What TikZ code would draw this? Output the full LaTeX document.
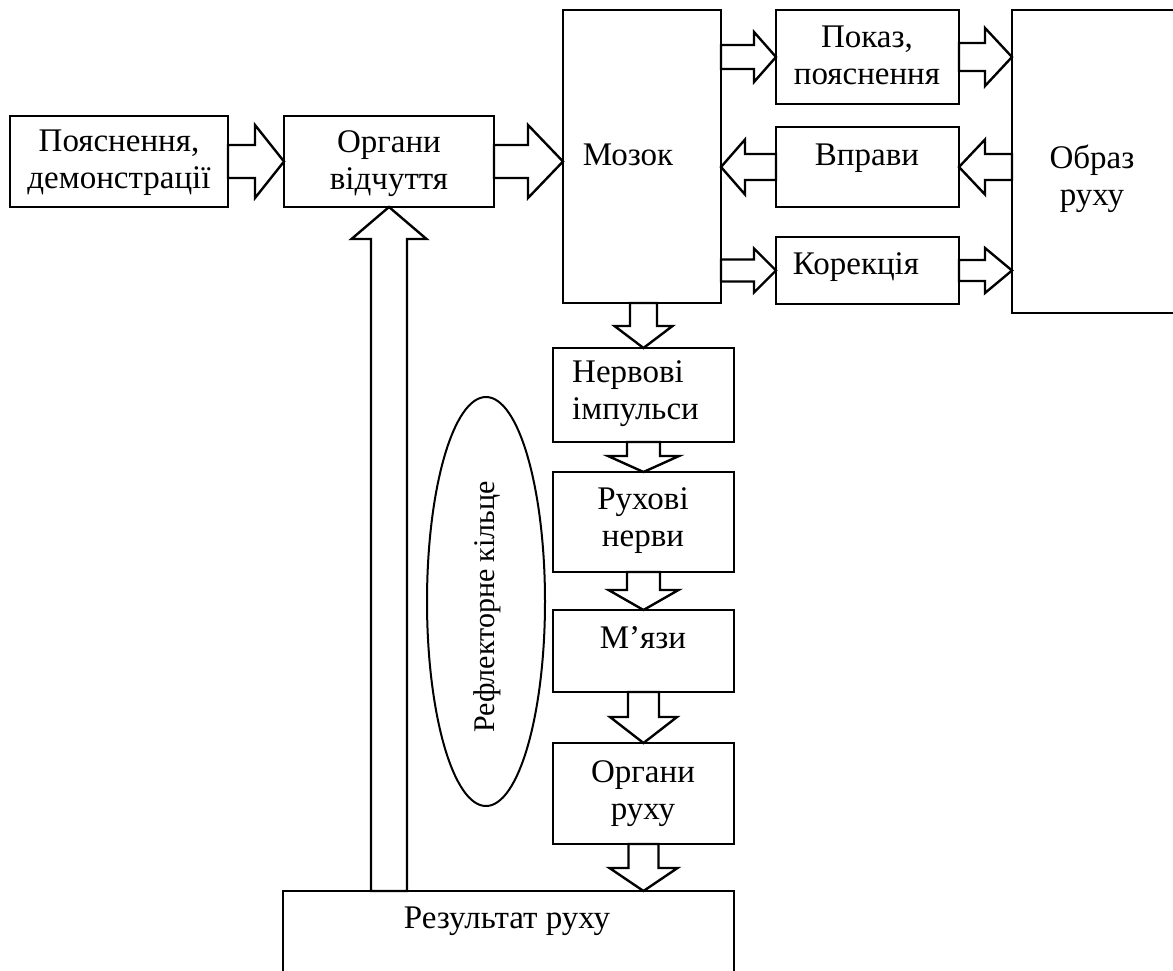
\documentclass[tikz,border=0pt]{standalone}
\usepackage{fontspec}
\setmainfont{Liberation Serif}
\usetikzlibrary{calc,shapes.geometric}
\newcommand{\blockarrow}[5]{%
  \coordinate (ba-s) at #1;
  \coordinate (ba-t) at #2;
  \coordinate (ba-h) at ($(ba-t)!#5!(ba-s)$);
  \draw[arr] ($(ba-s)!#3!90:(ba-t)$) -- ($(ba-h)!#3!-90:(ba-s)$) -- ($(ba-h)!#4!-90:(ba-s)$) -- (ba-t)
    -- ($(ba-h)!#4!90:(ba-s)$) -- ($(ba-h)!#3!90:(ba-s)$) -- ($(ba-s)!#3!-90:(ba-t)$) -- cycle;
}
\begin{document}
\begin{tikzpicture}[x=1pt,y=-1pt,
  box/.style={draw, line width=1.3pt, inner sep=0pt, outer sep=0pt},
  arr/.style={draw, fill=white, line width=2.4pt, line join=miter},
  txt/.style={font=\fontsize{33}{37}\selectfont, align=center, inner sep=0pt},
  ringtxt/.style={font=\fontsize{30}{35}\selectfont, inner sep=0pt},
  ring/.style={draw, ellipse, line width=2pt, inner sep=0pt, outer sep=0pt},
]
\useasboundingbox (0,0) rectangle (1173,971);
% boxes
\node[box, minimum width=218pt, minimum height=91pt] (b1) at (119,161.5) {};
\node[box, minimum width=210pt, minimum height=91pt] (b2) at (389,161.5) {};
\node[box, minimum width=158pt, minimum height=293pt] (mozok) at (642,156.5) {};
\node[box, minimum width=183pt, minimum height=94pt] (pokaz) at (867.5,57) {};
\node[box, minimum width=183pt, minimum height=80pt] (vpravy) at (867.5,167) {};
\node[box, minimum width=183pt, minimum height=67pt] (korek) at (867.5,270.5) {};
\node[box, minimum width=173pt, minimum height=303pt] (obraz) at (1098.5,161.5) {};
\node[box, minimum width=181pt, minimum height=94pt] (nerv) at (643.5,395) {};
\node[box, minimum width=181pt, minimum height=100pt] (rukh) at (643.5,522) {};
\node[box, minimum width=181pt, minimum height=82pt] (myaz) at (643.5,651) {};
\node[box, minimum width=181pt, minimum height=101pt] (orgr) at (643.5,793.5) {};
\node[box, minimum width=451pt, minimum height=94pt] (rez) at (508.5,938) {};
\node[ring, minimum width=118pt, minimum height=409pt] (ring) at (486,601.5) {};
% texts
\node[txt] (t-b1) at (119,163) {Пояснення,\\демонстрації};
\node[txt] (t-b2) at (389,164) {Органи\\відчуття};
\node[txt] (t-mozok) at (628,155) {Мозок};
\node[txt] (t-pokaz) at (867,55) {Показ,\\пояснення};
\node[txt] (t-vpravy) at (867,158) {Вправи};
\node[txt] (t-korek) at (856,267) {Корекція};
\node[txt] (t-obraz) at (1092,179) {Образ\\руху};
\node[txt, align=left, anchor=west] (t-nerv) at (572,394) {Нервові\\імпульси};
\node[txt] (t-rukh) at (643,521) {Рухові\\нерви};
\node[txt] (t-myaz) at (643,638) {М’язи};
\node[txt] (t-orgr) at (643,794) {Органи\\руху};
\node[txt] (t-rez) at (507,921) {Результат руху};
\node[ringtxt, rotate=90] (t-ring) at (487,607) {Рефлекторне кільце};
% block arrows
\blockarrow{(b1.east)}{(b2.west)}{16.5pt}{36.5pt}{29pt}
\blockarrow{(b2.east)}{(b2.east -| mozok.west)}{16.5pt}{36.5pt}{35pt}
\blockarrow{(pokaz.west -| mozok.east)}{(pokaz.west)}{12pt}{25pt}{22pt}
\blockarrow{(pokaz.east)}{(pokaz.east -| obraz.west)}{14pt}{29pt}{27pt}
\blockarrow{(vpravy.west)}{(vpravy.west -| mozok.east)}{13pt}{27.5pt}{24pt}
\blockarrow{(obraz.west |- vpravy.east)}{(vpravy.east)}{13pt}{27.5pt}{26pt}
\blockarrow{(korek.west -| mozok.east)}{(korek.west)}{11pt}{22pt}{22pt}
\blockarrow{(korek.east)}{(korek.east -| obraz.west)}{10.5pt}{22.5pt}{27pt}
\blockarrow{(nerv.north |- mozok.south)}{(nerv.north)}{13.5pt}{29pt}{22pt}
\blockarrow{(nerv.south)}{(rukh.north)}{16.5pt}{35.5pt}{16pt}
\blockarrow{(rukh.south)}{(myaz.north)}{16.5pt}{35pt}{20pt}
\blockarrow{(myaz.south)}{(orgr.north)}{15.5pt}{33.5pt}{26pt}
\blockarrow{(orgr.south)}{(orgr.south |- rez.north)}{15pt}{34pt}{23pt}
\blockarrow{(b2.south |- rez.north)}{(b2.south)}{18pt}{37.5pt}{32pt}
\end{tikzpicture}
\end{document}
